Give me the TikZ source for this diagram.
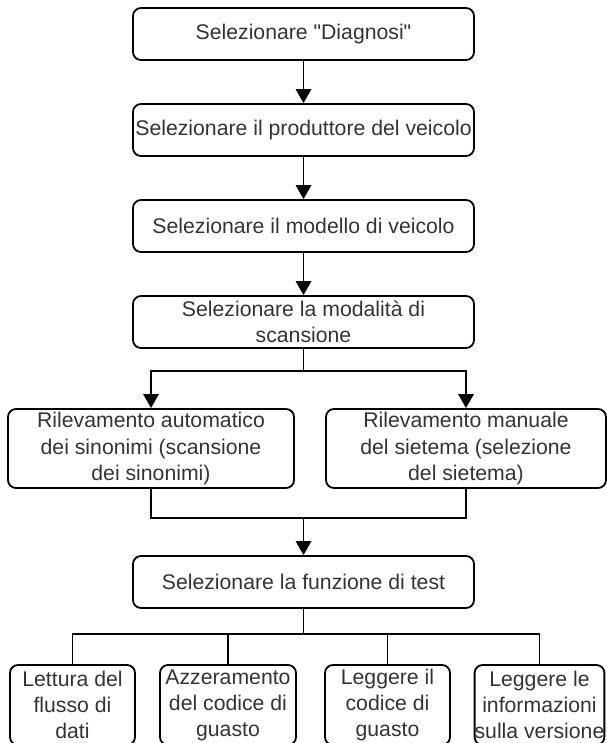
\documentclass[tikz,border=0pt]{standalone}
\usepackage{fontspec}
\setmainfont{Liberation Sans}
\usetikzlibrary{arrows.meta}

\begin{document}
\begin{tikzpicture}[node distance={24mm}, line width=1.3pt,
  main/.style = {draw, rounded corners=2mm, text=black!80, align=center, inner sep=0pt,
    font=\fontsize{15.1pt}{18.5pt}\selectfont, minimum width=85.25mm, minimum height=13mm},
  arr/.style = {-{Triangle[length=10pt, width=11pt]}}]
\useasboundingbox (0,0) rectangle (15.175,-18.575);
\node[main] (sel) at (7.5875,-0.85) {Selezionare \textquotedbl Diagnosi\textquotedbl};
\node[main] (prod) [below of=sel] {Selezionare il produttore del veicolo};
\node[main] (mod) [below of=prod] {Selezionare il modello di veicolo};
\node[main] (scan) [below of=mod] {Selezionare la modalità di\\scansione};
\node[main, minimum width=71.5mm, minimum height=19.75mm] (autom) at (3.775,-11.2125) {Rilevamento automatico\\dei sinonimi (scansione\\dei sinonimi)};
\node[main, minimum width=70mm, minimum height=19.75mm] (man) at (11.65,-11.2125) {Rilevamento manuale\\del sietema (selezione\\del sietema)};
\node[main] (test) at (7.5875,-14.55) {Selezionare la funzione di test};
\node[main, minimum width=31.25mm, minimum height=20mm] (flow) at (1.8125,-17.625) {Lettura del\\flusso di\\dati};
\node[main, minimum width=34mm, minimum height=20mm] (clr) at (5.7,-17.625) {Azzeramento\\del codice di\\guasto};
\node[main, minimum width=31.25mm, minimum height=20mm] (read) at (9.6875,-17.625) {Leggere il\\codice di\\guasto};
\node[main, minimum width=32.25mm, minimum height=20mm] (info) at (13.4875,-17.625) {Leggere le\\informazioni\\sulla versione};
\coordinate (j1) at (7.5875,-9.275);
\coordinate (j2) at (7.5875,-12.95);
\coordinate (j3) at (7.5875,-15.85);
\draw[arr] (sel) -- (prod);
\draw[arr] (prod) -- (mod);
\draw[arr] (mod) -- (scan);
\draw (scan) -- (j1);
\draw[arr] (j1) -| (autom);
\draw[arr] (j1) -| (man);
\draw (autom) |- (j2) -| (man);
\draw[arr] (j2) -- (test);
\draw (test) -- (j3);
\foreach \n in {flow,clr,read,info}
  \draw (j3) -| (\n);
\end{tikzpicture}
\end{document}
